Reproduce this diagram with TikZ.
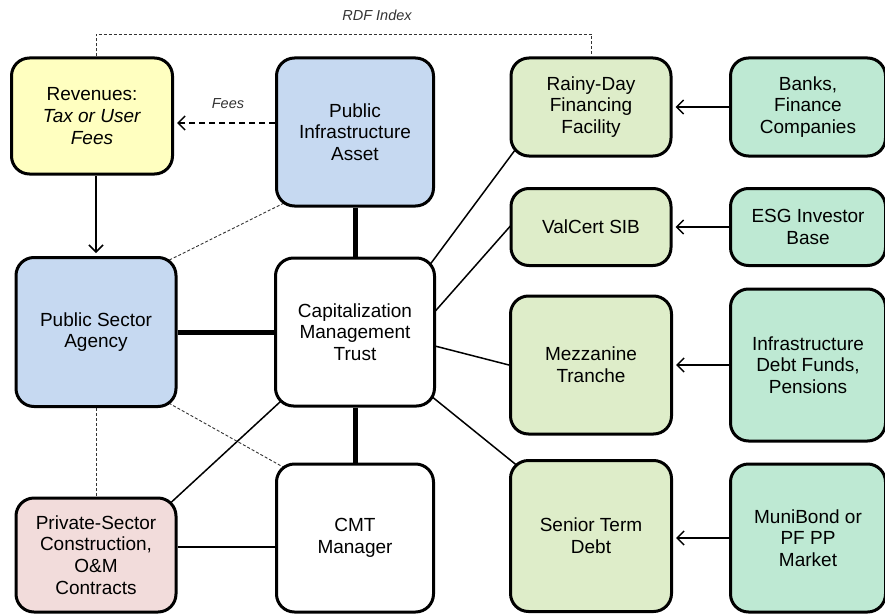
\documentclass[tikz,border=0pt]{standalone}
\usepackage{fontspec}
\setmainfont{Liberation Sans}
\usetikzlibrary{arrows.meta}
\pgfdeclarelayer{background}
\pgfsetlayers{background,main}
\definecolor{revfill}{HTML}{FFFFC0}
\definecolor{pubfill}{HTML}{C6D9F1}
\definecolor{pvtfill}{HTML}{F2DCDB}
\definecolor{trfill}{HTML}{DEEDC9}
\definecolor{invfill}{HTML}{BEE9D3}

\begin{document}
\begin{tikzpicture}[x=1pt,y=-1pt,
 box/.style={draw=black,line width=3pt,rounded corners=18pt,align=center,inner sep=0pt,font=\fontsize{19}{21.7}\selectfont},
 note/.style={font=\fontsize{14.5}{17}\selectfont\itshape,text=black!80},
 heavy/.style={line width=5pt},
 link/.style={line width=1.5pt},
 hint/.style={line width=0.9pt,dash pattern=on 3pt off 2pt,black!80},
 tuck/.style={shorten <=-10pt,shorten >=-10pt},
 feed/.style={line width=1.5pt,->,>={Straight Barb[length=7pt,width=14pt]},shorten >=3pt}]
 \useasboundingbox (0,0) rectangle (885,615);

 \node[box,fill=revfill,minimum width=161pt,minimum height=116pt] (rev) at (92,116) {Revenues:\\\textit{Tax or User}\\\textit{Fees}};
 \node[box,fill=pubfill,minimum width=157pt,minimum height=148pt] (pia) at (355,132) {Public\\Infrastructure\\Asset};
 \node[box,fill=pubfill,minimum width=160pt,minimum height=149pt] (psa) at (96,332) {Public Sector\\Agency};
 \node[box,fill=white,minimum width=159pt,minimum height=148pt] (cmt) at (355,332) {Capitalization\\Management\\Trust};
 \node[box,fill=pvtfill,minimum width=160pt,minimum height=114pt] (pvt) at (96,555) {Private-Sector\\Construction,\\O\&M\\Contracts};
 \node[box,fill=white,minimum width=157pt,minimum height=148pt] (mgr) at (355,538) {CMT\\Manager};

 \node[box,fill=trfill,minimum width=160pt,minimum height=98pt] (rdf) at (591,107) {Rainy-Day\\Financing\\Facility};
 \node[box,fill=trfill,minimum width=160pt,minimum height=77pt] (sib) at (591,227) {ValCert SIB};
 \node[box,fill=trfill,minimum width=161pt,minimum height=138pt] (mez) at (591,365) {Mezzanine\\Tranche};
 \node[box,fill=trfill,minimum width=161pt,minimum height=151pt] (snr) at (591,536) {Senior Term\\Debt};

 \node[box,fill=invfill,minimum width=155pt,minimum height=98pt] (bnk) at (808,107) {Banks,\\Finance\\Companies};
 \node[box,fill=invfill,minimum width=155pt,minimum height=77pt] (esg) at (808,227) {ESG Investor\\Base};
 \node[box,fill=invfill,minimum width=155pt,minimum height=152pt] (inf) at (808,365) {Infrastructure\\Debt Funds,\\Pensions};
 \node[box,fill=invfill,minimum width=155pt,minimum height=148pt] (mun) at (808,538) {MuniBond or\\PF PP\\Market};

 \node[note] (idx) at (377,15) {RDF Index};
 \node[note] (fee) at (228,104) {Fees};
 \coordinate (rdfline) at (377,34);

 \draw[hint] (rev.north -| psa) |- (rdfline) -| (rdf.north);
 \draw[feed,dash pattern=on 6pt off 4pt] ([yshift=9pt]pia.west) -- ([yshift=9pt]pia.west -| rev.east);
 \draw[feed] (rev.south -| psa) -- (psa.north);
 \draw[feed] (bnk) -- (rdf);
 \draw[feed] (esg) -- (sib);
 \draw[feed] (inf) -- (mez);
 \draw[feed] (mun.west) -- (mun.west -| snr.east);

 \begin{pgfonlayer}{background}
 \draw[heavy] (pia) -- (cmt);
 \draw[heavy] (psa) -- (cmt);
 \draw[heavy] (cmt) -- (mgr);
 \draw[link,tuck] (cmt.north east) -- (rdf.south west);
 \draw[link,tuck] (cmt.15) -- (sib.west);
 \draw[link,tuck] (cmt.-10) -- (mez.west);
 \draw[link,tuck] (cmt.-40) -- (snr.north west);
 \draw[link,tuck] (pvt.north east) -- (cmt.south west);
 \draw[link] ([yshift=8pt]pvt.east) -- ([yshift=8pt]pvt.east -| mgr.west);
 \draw[hint,tuck] (pia.south west) -- (psa.north east);
 \draw[hint,tuck] (psa.south east) -- (mgr.north west);
 \draw[hint] (psa) -- (pvt);
 \end{pgfonlayer}
\end{tikzpicture}
\end{document}
